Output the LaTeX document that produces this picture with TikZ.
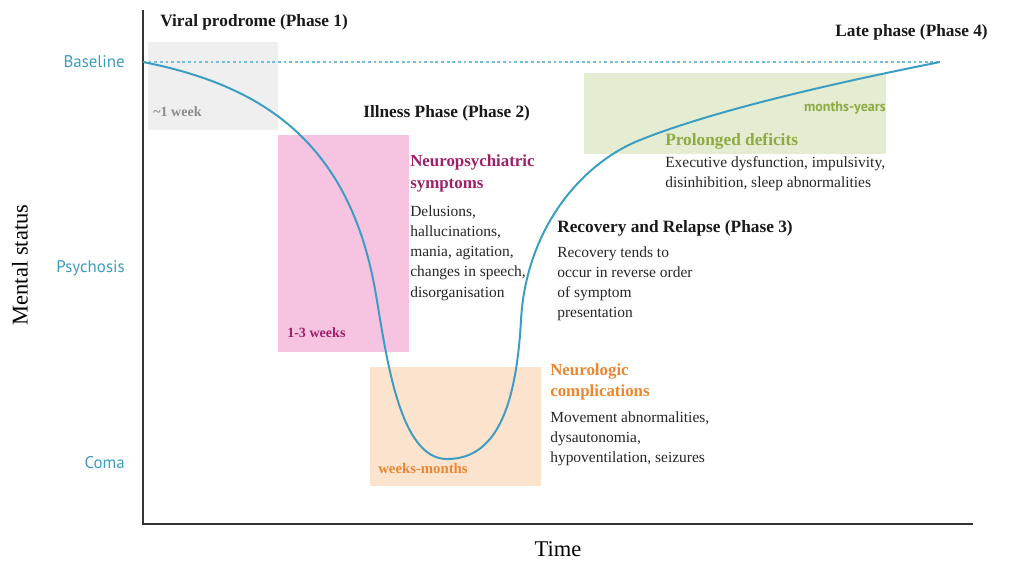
\documentclass[tikz,border=0pt]{standalone}
\usepackage{fontspec}
\setmainfont{Liberation Serif}
\newfontfamily\tagfont{PT Sans}
\usetikzlibrary{calc,backgrounds}
\definecolor{curveblue}{HTML}{3B9DC1}
\definecolor{dashblue}{HTML}{72BEDB}
\definecolor{prodgray}{HTML}{EFEFEF}
\definecolor{prodtext}{HTML}{8C8C8C}
\definecolor{psypink}{HTML}{F6C3E1}
\definecolor{psytext}{HTML}{9E2068}
\definecolor{neuroorange}{HTML}{FCE3CE}
\definecolor{neurotext}{HTML}{EC8630}
\definecolor{latergreen}{HTML}{E4ECD2}
\definecolor{latertext}{HTML}{8DAB42}
\tikzset{
axes/.style = {line width = 1.2pt,color = black!80},
baseline/.style = {line width = 0.8pt,color = dashblue,dash pattern = on 2pt off 2pt},
curve/.style = {line width = 1.4pt,color = curveblue},
phase/.style = {font = \bfseries\fontsize{12.3}{15}\selectfont,inner sep = 0pt,text = black!90},
group/.style = {font = \bfseries\fontsize{12}{15.6}\selectfont,inner sep = 0pt,align = left,anchor = north west},
body/.style = {font = \fontsize{11}{14.4}\selectfont,inner sep = 0pt,align = left,anchor = north west,text = black!85},
level/.style = {font = \tagfont\fontsize{12}{14}\selectfont,inner sep = 0pt,anchor = east,text = curveblue},
span/.style = {font = \bfseries\fontsize{10}{12}\selectfont,inner sep = 0pt,anchor = west}
}
\begin{document}
\begin{tikzpicture}[x=0.025cm,y=-0.025cm]
%
\useasboundingbox (0,0) rectangle (1024,568);
%
\def\levellist{62/Baseline,268/Psychosis,463/Coma}
\def\xzero{143}
\def\ybase{62}
%
% phase boxes
\fill[prodgray] (148,42) rectangle (278,130);
\fill[psypink] (278,135) rectangle (409,352);
\fill[neuroorange] (370,367) rectangle (541,486);
\fill[latergreen] (584,73) rectangle (886,154);
%
% axes
\coordinate (ytop) at (\xzero,10);
\coordinate (origin) at (\xzero,524);
\coordinate (xend) at (973,524);
\draw[axes] (ytop)--(origin)--(xend);
%
\coordinate (base0) at (\xzero,\ybase);
\coordinate (base1) at (940,\ybase);
\draw[baseline] (base0)--(base1);
%
\foreach \y/\name in \levellist {
\node[level] (lvl-\name) at (125,\y) {\name};
}
%
% course of the illness
\coordinate (fall) at (376,295);
\coordinate (bottom) at (447,459);
\coordinate (rise) at (521,320);
\coordinate (bend) at (640,140);
\draw[curve] (base0) .. controls (260,85) and (350,140) .. (fall)
.. controls (387,360) and (400,459) .. (bottom)
.. controls (495,459) and (516,410) .. (rise)
.. controls (526,230) and (580,164) .. (bend)
.. controls (720,108) and (850,80) .. (base1);
%
% durations
\node[span,text = prodtext] (dur1) at (153,112) {\textasciitilde1 week};
\node[span,text = psytext] (dur2) at (287,333) {1-3 weeks};
\node[span,text = neurotext,font = \bfseries\fontsize{10.5}{12}\selectfont] (dur3) at (378,468) {weeks-months};
\node[span,text = latertext,font = \tagfont\bfseries\fontsize{10}{12}\selectfont,anchor = east] (dur4) at (886,108) {months-years};
%
% phases
\node[phase,anchor = west] (ph1) at (160,22) {Viral prodrome (Phase 1)};
\node[phase,anchor = west] (ph2) at (363,113) {Illness Phase (Phase 2)};
\node[phase,anchor = west] (ph3) at (557,228) {Recovery and Relapse (Phase 3)};
\node[phase,anchor = east] (ph4) at (988,32) {Late phase (Phase 4)};
%
\node[group,text = psytext] (psy) at (410,155) {Neuropsychiatric\\symptoms};
\node[body] (psy-body) at (410,205) {Delusions,\\hallucinations,\\mania, agitation,\\changes in speech,\\disorganisation};
%
\node[group,text = neurotext] (neuro) at (550,363) {Neurologic\\complications};
\node[body] (neuro-body) at (550,411) {Movement abnormalities,\\dysautonomia,\\hypoventilation, seizures};
%
\node[body] (rec-body) at (557,246) {Recovery tends to\\occur in reverse order\\of symptom\\presentation};
%
\node[phase,anchor = west,text = latertext] (late) at (665,141) {Prolonged deficits};
\node[body] (late-body) at (665,156) {Executive dysfunction, impulsivity,\\disinhibition, sleep abnormalities};
%
% axis titles
\node[font = \fontsize{16}{18}\selectfont] (xtitle) at (558,549) {Time};
\node[font = \fontsize{16}{18}\selectfont,rotate = 90] (ytitle) at (20,265) {Mental status};
%
\end{tikzpicture}
\end{document}
